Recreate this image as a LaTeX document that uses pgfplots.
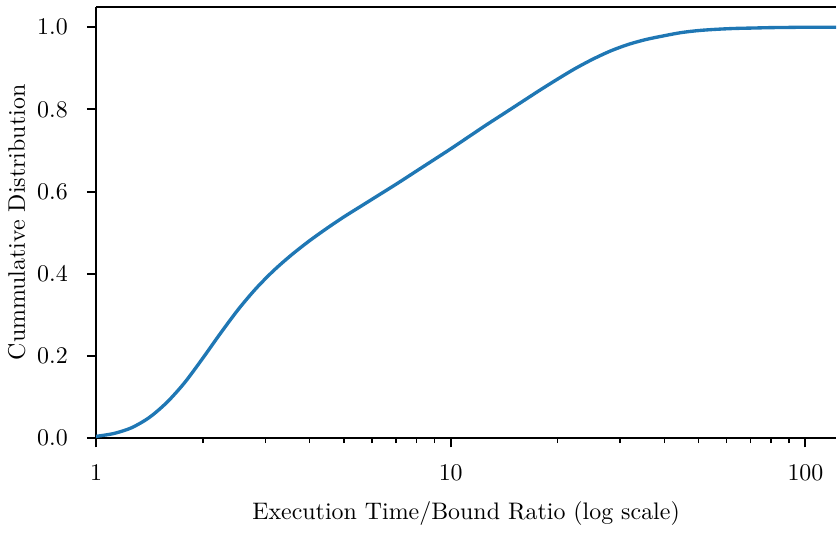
\documentclass[border=0pt]{standalone}
\usepackage{pgfplots}
\pgfplotsset{compat=1.18}
\definecolor{tabblue}{HTML}{1F77B4}
\begin{document}
\begin{tikzpicture}
\begin{axis}[
  scale only axis,
  width=309.5pt, height=180.4pt,
  xmode=log, xmin=1, xmax=122, ymin=0, ymax=1.05,
  axis lines*=left,
  axis line style={-, line width=0.8pt},
  tick align=outside,
  tick pos=left,
  major tick length=3.9pt,
  minor tick length=2.1pt,
  every tick/.style={black, line width=0.8pt},
  minor tick style={line width=0.6pt},
  xtick={1,10,100},
  xticklabels={1,10,100},
  minor xtick={2,3,4,5,6,7,8,9,20,30,40,50,60,70,80,90},
  ytick={0,0.2,0.4,0.6,0.8,1.0},
  yticklabel style={/pgf/number format/fixed, /pgf/number format/precision=1, /pgf/number format/fixed zerofill, xshift=-4.4pt},
  xticklabel style={yshift=-3.7pt},
  xlabel={Execution Time/Bound Ratio (log scale)},
  ylabel={Cummulative Distribution},
  xlabel style={yshift=-1.5pt},
  ylabel style={yshift=-1.9pt},
]
\addplot[tabblue, line width=1.4pt, smooth, tension=0.5] coordinates {
(1.000,0.004) (1.122,0.011) (1.259,0.025) (1.413,0.050) (1.585,0.087)
(1.778,0.135) (1.995,0.193) (2.239,0.254) (2.512,0.312) (2.818,0.363)
(3.162,0.407) (3.548,0.445) (3.981,0.479) (4.467,0.510) (5.012,0.539)
(5.623,0.566) (6.310,0.593) (7.079,0.620) (7.943,0.648) (8.913,0.676)
(10.00,0.704) (11.22,0.733) (12.59,0.762) (14.13,0.790) (15.85,0.818)
(17.78,0.846) (19.95,0.873) (22.39,0.899) (25.12,0.922) (28.18,0.942)
(31.62,0.958) (35.48,0.970) (39.81,0.979) (44.67,0.987) (50.12,0.992)
(56.23,0.995) (63.10,0.997) (70.79,0.998) (79.43,0.999) (89.13,0.9995) (100,1.0) (122,1.0)
};
\draw[line width=0.8pt] (rel axis cs:0,1) -- (rel axis cs:1,1);
\end{axis}
\path (current axis.north west) ++(0,2.8pt);
\end{tikzpicture}
\end{document}
